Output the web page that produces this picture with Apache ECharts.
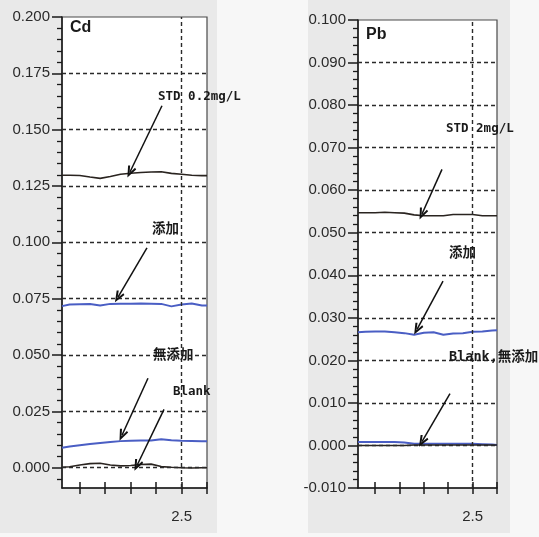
<!DOCTYPE html>
<html><head><meta charset="utf-8">
<script src="https://cdn.jsdelivr.net/npm/echarts@6/dist/echarts.min.js"></script>
<style>html,body{margin:0;padding:0;background:#f7f7f7;} #c{width:539px;height:537px;}</style>
</head><body><div id="c"></div>
<script>
// ---- data ----
const timeX = [0.15, 0.3, 0.5, 0.7, 0.9, 1.1, 1.3, 1.5, 1.7, 1.9, 2.1, 2.3, 2.5, 2.7, 2.9, 3.0];

const cdStd    = [0.1298, 0.1298, 0.1297, 0.1290, 0.1284, 0.1292, 0.1302, 0.1307, 0.1310, 0.1312, 0.1313, 0.1306, 0.1302, 0.1298, 0.1296, 0.1296];
const cdAdd    = [0.0717, 0.0724, 0.0725, 0.0726, 0.0720, 0.0727, 0.0728, 0.0728, 0.0729, 0.0728, 0.0727, 0.0716, 0.0724, 0.0729, 0.0720, 0.0720];
const cdNoAdd  = [0.0089, 0.0094, 0.0100, 0.0105, 0.0110, 0.0114, 0.0118, 0.0120, 0.0121, 0.0121, 0.0126, 0.0122, 0.0120, 0.0119, 0.0118, 0.0118];
const cdBlank  = [0.0002, 0.0004, 0.0012, 0.0018, 0.0020, 0.0012, 0.0008, 0.0010, 0.0014, 0.0016, 0.0005, 0.0002, 0.0000, -0.0001, 0.0000, 0.0000];

const pbStd    = [0.0547, 0.0547, 0.0547, 0.0548, 0.0547, 0.0546, 0.0542, 0.0540, 0.0540, 0.0540, 0.0543, 0.0543, 0.0543, 0.0540, 0.0540, 0.0540];
const pbAdd    = [0.0266, 0.0267, 0.0268, 0.0268, 0.0266, 0.0264, 0.0260, 0.0265, 0.0266, 0.0260, 0.0263, 0.0264, 0.0267, 0.0268, 0.0270, 0.0271];
const pbNoAdd  = [0.0008, 0.0008, 0.0008, 0.0008, 0.0008, 0.0007, 0.0004, 0.0004, 0.0004, 0.0004, 0.0004, 0.0004, 0.0004, 0.0003, 0.0002, 0.0001];
const pbBlank  = [0.0000, 0.0000, 0.0000, 0.0000, 0.0000, 0.0000, 0.0001, 0.0001, 0.0001, 0.0001, 0.0001, 0.0001, 0.0001, 0.0001, 0.0001, 0.0001];

const xTickValues = [0.5, 1.0, 1.5, 2.0, 2.5, 3.0];
const xLabelValues = [2.5];
const xGridValues = [2.5];

const cdYMajor = [0, 0.025, 0.05, 0.075, 0.1, 0.125, 0.15, 0.175, 0.2];
const pbYMajor = [-0.01, 0, 0.01, 0.02, 0.03, 0.04, 0.05, 0.06, 0.07, 0.08, 0.09, 0.1];
const cdYGrid = [0, 0.025, 0.05, 0.075, 0.1, 0.125, 0.15, 0.175];
const pbYGrid = [0, 0.01, 0.02, 0.03, 0.04, 0.05, 0.06, 0.07, 0.08, 0.09];

const cdTexts = ['Cd', 'STD 0.2mg/L', '添加', '無添加', 'Blank'];
const cdTextX = [0.307, 2.037, 1.919, 1.939, 2.332];
const cdTextY = [0.1953, 0.1646, 0.1055, 0.0499, 0.0335];
const cdArrowFrom = [[2.115, 0.1606], [1.820, 0.0975], [1.840, 0.0397], [2.155, 0.0259]];
const cdArrowTo   = [[1.486, 0.1312], [1.251, 0.0757], [1.329, 0.0144], [1.624, 0.0010]];

const pbTexts = ['Pb', 'STD 2mg/L', '添加', 'Blank,無添加'];
const pbTextX = [0.314, 1.954, 2.016, 2.016];
const pbTextY = [0.0965, 0.0744, 0.0452, 0.0207];
const pbArrowFrom = [[1.872, 0.0649], [1.893, 0.0386], [2.036, 0.0122]];
const pbArrowTo   = [[1.462, 0.0544], [1.360, 0.0273], [1.462, 0.0009]];

// ---- helpers ----
function minorTicks(lo, hi, step, majorStep) {
  const out = [];
  const n = Math.round((hi - lo) / step);
  for (let i = 0; i <= n; i++) {
    const v = +(lo + i * step).toFixed(6);
    const r = v / majorStep;
    if (Math.abs(r - Math.round(r)) > 1e-6) out.push(v);
  }
  return out;
}
const cdYMinor = minorTicks(-0.005, 0.2, 0.005, 0.025);
const pbYMinor = minorTicks(-0.01, 0.1, 0.002, 0.01);

const AX = '#1a1a1a';
const LBL = { fontFamily: "'Liberation Sans',Arial,sans-serif", fontSize: 15, color: '#2a2a2a' };
const ANN_FONT = "'DejaVu Sans Mono','Noto Sans CJK JP',monospace";
const BLACK = '#2a2420', BLUE = '#4a5ec4';

function xAxes(gi) {
  const base = { type: 'value', gridIndex: gi, min: 0.15, max: 3.0, position: 'bottom', splitLine: { show: false } };
  return [
    Object.assign({}, base, {
      axisLine: { onZero: false, lineStyle: { color: AX, width: 1.5 } },
      axisTick: { customValues: xTickValues, length: 6, lineStyle: { color: AX, width: 1.5 } },
      axisLabel: Object.assign({ customValues: xLabelValues, margin: 21, formatter: v => v.toFixed(1) }, LBL)
    }),
    Object.assign({}, base, {
      axisLine: { show: false, onZero: false },
      axisTick: { customValues: xTickValues, inside: true, length: 6, lineStyle: { color: AX, width: 1.5 } },
      axisLabel: { show: false }
    })
  ];
}
function yAxes(gi, min, max, major, minor) {
  const base = { type: 'value', gridIndex: gi, min: min, max: max, position: 'left', splitLine: { show: false } };
  return [
    Object.assign({}, base, {
      axisLine: { onZero: false, lineStyle: { color: AX, width: 1.5 } },
      axisTick: { customValues: major, length: 10, lineStyle: { color: AX, width: 1.5 } },
      axisLabel: Object.assign({ customValues: major, margin: 12, formatter: v => v.toFixed(3) }, LBL)
    }),
    Object.assign({}, base, {
      axisLine: { show: false, onZero: false },
      axisTick: { customValues: minor, length: 5, lineStyle: { color: AX, width: 1.3 } },
      axisLabel: { show: false }
    })
  ];
}
function lineSeries(xi, yi, arr, color, width) {
  return {
    type: 'line', xAxisIndex: xi, yAxisIndex: yi, showSymbol: false, symbol: 'none',
    data: timeX.map((x, i) => [x, arr[i]]),
    lineStyle: { color: color, width: width }, z: 3, animation: false
  };
}
function gridSeries(xi, yi, yLines) {
  return {
    type: 'line', xAxisIndex: xi, yAxisIndex: yi, data: [], z: 1, animation: false,
    markLine: {
      silent: true, symbol: 'none', animation: false, precision: 6,
      label: { show: false },
      lineStyle: { type: [4, 3], color: '#2a2a2a', width: 1.4 },
      data: yLines.map(v => ({ yAxis: v })).concat(xGridValues.map(v => ({ xAxis: v })))
    }
  };
}
const chevron = 'path://M5,0 L10,11 L8,12 L5,5 L2,12 L0,11 Z';
function annSeries(xi, yi, texts, tx, ty, from, to, titleFont) {
  return {
    type: 'line', xAxisIndex: xi, yAxisIndex: yi, data: [], z: 5, clip: false, animation: false,
    markPoint: {
      symbol: 'circle', symbolSize: 0, animation: false,
      data: texts.map((t, i) => ({
        coord: [tx[i], ty[i]], name: t,
        label: {
          show: true, position: 'right', distance: 0, formatter: t,
          fontFamily: i === 0 ? titleFont : ANN_FONT,
          fontSize: i === 0 ? 16 : (/[^\x00-\x7f]/.test(t) ? 13.5 : 12.5),
          fontWeight: 'bold',
          color: '#1a1a1a'
        }
      }))
    },
    markLine: {
      silent: true, animation: false, precision: 6,
      symbolSize: [9, 12],
      label: { show: false },
      lineStyle: { type: 'solid', color: '#111', width: 1.5 },
      data: from.map((f, i) => [
        { coord: f, symbol: 'none' },
        { coord: to[i], symbol: chevron }
      ])
    }
  };
}

const chart = echarts.init(document.getElementById('c'), null, { renderer: 'canvas' });
const titleFont = "'Liberation Sans',Arial,sans-serif";
chart.setOption({
  animation: false,
  backgroundColor: '#f7f7f7',
  graphic: [
    { type: 'rect', shape: { x: 0, y: 0, width: 217, height: 533 }, style: { fill: '#e9e9e9' }, z: -10, silent: true },
    { type: 'rect', shape: { x: 308, y: 0, width: 202, height: 533 }, style: { fill: '#e9e9e9' }, z: -10, silent: true }
  ],
  grid: [
    { left: 62, top: 17, width: 145, height: 471, show: true, backgroundColor: '#ffffff', borderColor: '#4a4a4a', borderWidth: 1.2 },
    { left: 358, top: 20, width: 139, height: 468, show: true, backgroundColor: '#ffffff', borderColor: '#4a4a4a', borderWidth: 1.2 }
  ],
  xAxis: xAxes(0).concat(xAxes(1)),
  yAxis: yAxes(0, -0.009, 0.2, cdYMajor, cdYMinor).concat(yAxes(1, -0.01, 0.1, pbYMajor, pbYMinor)),
  series: [
    gridSeries(0, 0, cdYGrid),
    lineSeries(0, 0, cdStd, BLACK, 1.6),
    lineSeries(0, 0, cdAdd, BLUE, 2),
    lineSeries(0, 0, cdNoAdd, BLUE, 2),
    lineSeries(0, 0, cdBlank, BLACK, 1.6),
    annSeries(0, 0, cdTexts, cdTextX, cdTextY, cdArrowFrom, cdArrowTo, titleFont),
    gridSeries(2, 2, pbYGrid),
    lineSeries(2, 2, pbStd, BLACK, 1.6),
    lineSeries(2, 2, pbAdd, BLUE, 2),
    lineSeries(2, 2, pbNoAdd, BLUE, 2),
    lineSeries(2, 2, pbBlank, BLACK, 1.6),
    annSeries(2, 2, pbTexts, pbTextX, pbTextY, pbArrowFrom, pbArrowTo, titleFont)
  ]
});
</script>
</body></html>
